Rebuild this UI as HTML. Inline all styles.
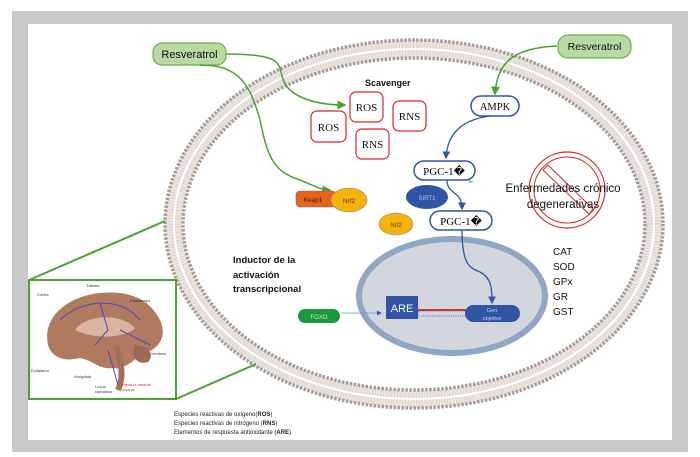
<!DOCTYPE html>
<html><head><meta charset="utf-8"><style>
html,body{margin:0;padding:0;background:#fff;}
svg{display:block;font-family:"Liberation Sans",sans-serif;}
</style></head><body>
<svg width="700" height="457" viewBox="0 0 700 457" xmlns="http://www.w3.org/2000/svg">
<defs>
<marker id="ag" markerWidth="6" markerHeight="6" refX="5" refY="3" orient="auto"><path d="M0,0 L6,3 L0,6z" fill="#4ca22e"/></marker>
<marker id="ab" markerWidth="6" markerHeight="6" refX="5" refY="3" orient="auto"><path d="M0,0 L6,3 L0,6z" fill="#2f55a4"/></marker>
</defs>
<rect x="12" y="11" width="676" height="441" fill="#c8c9cb"/>
<rect x="28" y="24" width="644" height="416" fill="#fff"/>
<!-- membrane -->
<ellipse cx="414" cy="224" rx="240" ry="175" fill="none" stroke="#ece6e3" stroke-width="18"/>
<ellipse cx="414" cy="224" rx="240" ry="175" fill="none" stroke="#d9cfca" stroke-width="14" stroke-dasharray="0.8 2"/>
<ellipse cx="414" cy="224" rx="240" ry="175" fill="none" stroke="#fff" stroke-width="2"/>
<ellipse cx="414" cy="224" rx="249" ry="184" fill="none" stroke="#a89d96" stroke-width="3.5" stroke-dasharray="2.5 1.5"/>
<ellipse cx="414" cy="224" rx="231" ry="166" fill="none" stroke="#a89d96" stroke-width="3.5" stroke-dasharray="2.5 1.5"/>
<!-- brain box connectors -->
<line x1="29" y1="280" x2="165" y2="221" stroke="#4ca22e" stroke-width="2"/>
<line x1="176" y1="399" x2="256" y2="364" stroke="#4ca22e" stroke-width="2"/>
<rect x="29" y="280" width="147" height="119" fill="#fff" stroke="#4ca22e" stroke-width="2"/>
<!-- brain -->
<path d="M48,345 C42,315 70,296 100,293 C130,290 150,300 160,320 C168,338 158,350 140,355 C130,365 120,370 112,368 C100,370 92,360 80,358 C65,362 52,358 48,345z" fill="#b07a5e"/>
<path d="M75,330 C85,315 120,312 135,328 C125,338 95,340 75,330z" fill="#d9b5a0"/>
<path d="M116,345 C120,360 125,375 118,390" stroke="#a27058" stroke-width="6" fill="none"/>
<path d="M135,345 C148,345 155,355 148,362 C138,365 130,358 135,345z" fill="#9a6a54"/>
<path d="M60,320 C80,300 120,295 140,320 M100,303 L108,330 L95,345 M120,330 L150,345 M108,350 L118,385" stroke="#4a48d0" stroke-width="1" fill="none"/>
<g font-size="4" fill="#333"><text x="37" y="296">Cortex</text><text x="86" y="287">Tálamo</text><text x="130" y="302">Hipocampo</text><text x="150" y="355">Cerebelo</text><text x="31" y="372">Epitálamo</text><text x="74" y="378">Amígdala</text><text x="95" y="388">Locus</text><text x="95" y="393">coeruleus</text><text x="122" y="386" fill="#c0392b">Hacia la médula</text><text x="122" y="391" fill="#c0392b">espinal</text></g>
<!-- nucleus -->
<ellipse cx="452" cy="296" rx="93" ry="57" fill="#d3d6dc" stroke="#8fa6c4" stroke-width="6"/>
<rect x="386" y="296" width="32" height="23" fill="#2f55a4"/>
<text x="402" y="312" font-size="11" fill="#fff" text-anchor="middle">ARE</text>
<rect x="418" y="309" width="50" height="2" fill="#d33"/>
<rect x="418" y="311" width="50" height="5" fill="none" stroke="#2f55a4" stroke-width="0.8" stroke-dasharray="1 1.3"/>
<rect x="465" y="305" width="55" height="17" rx="8.5" fill="#2f55a4"/>
<text x="492" y="312" font-size="5.5" fill="#c9d4ee" text-anchor="middle">Gen</text>
<text x="492" y="320" font-size="5.5" fill="#c9d4ee" text-anchor="middle">objetivo</text>
<!-- FOXO -->
<rect x="298" y="309" width="42" height="14" rx="7" fill="#1a9a3a"/>
<text x="319" y="319" font-size="6" fill="#cfe8cf" text-anchor="middle">FOXO</text>
<line x1="341" y1="313" x2="381" y2="313" stroke="#6f8fd0" stroke-width="0.8" marker-end="url(#ab)"/>
<!-- Resveratrol -->
<rect x="153" y="43" width="73" height="22" rx="9" fill="#b7d9a4" stroke="#6cb24a" stroke-width="1.2"/>
<text x="189.5" y="58" font-size="11" text-anchor="middle" fill="#111">Resveratrol</text>
<rect x="558" y="35" width="73" height="23" rx="10" fill="#b7d9a4" stroke="#6cb24a" stroke-width="1.2"/>
<text x="594.5" y="50" font-size="10.5" text-anchor="middle" fill="#111">Resveratrol</text>
<path d="M226,54 C300,54 270,70 290,90 C305,103 330,105 345,105" stroke="#4ca22e" stroke-width="1.5" fill="none" marker-end="url(#ag)"/>
<path d="M200,65 C240,65 250,85 260,120 C268,160 275,172 300,180 C315,186 320,190 330,190" stroke="#4ca22e" stroke-width="1.5" fill="none" marker-end="url(#ag)"/>
<path d="M557,46 C510,48 497,65 495,94" stroke="#4ca22e" stroke-width="1.5" fill="none" marker-end="url(#ag)"/>
<!-- Scavenger -->
<text x="365" y="86" font-size="9" font-weight="bold" fill="#111">Scavenger</text>
<g fill="#fff" stroke="#e02424" stroke-width="1.2" font-family="Liberation Serif" font-size="11">
<rect x="350" y="92" width="33" height="30" rx="6"/>
<rect x="393" y="101" width="33" height="30" rx="6"/>
<rect x="356" y="129" width="33" height="30" rx="6"/>
<rect x="311" y="111" width="35" height="31" rx="6"/>
</g>
<g font-family="Liberation Serif" font-size="11" fill="#111" text-anchor="middle">
<text x="366.5" y="111">ROS</text><text x="409.5" y="120">RNS</text><text x="372.5" y="148">RNS</text><text x="328.5" y="131">ROS</text>
</g>
<!-- AMPK chain -->
<rect x="471" y="96" width="48" height="20" rx="10" fill="#fff" stroke="#2f55a4" stroke-width="1.5"/>
<text x="495" y="110" font-family="Liberation Serif" font-size="10.5" text-anchor="middle">AMPK</text>
<path d="M490,116 C460,120 447,135 446,158" stroke="#2f55a4" stroke-width="1.3" fill="none" marker-end="url(#ab)"/>
<rect x="414" y="161" width="61" height="19" rx="9.5" fill="#fff" stroke="#2f55a4" stroke-width="1.5"/>
<text x="444" y="175" font-family="Liberation Serif" font-size="11" text-anchor="middle">PGC-1�</text>
<text x="468" y="183" font-size="4.5" fill="#333">Ac</text>
<path d="M447,180 C447,195 462,190 462,209" stroke="#2f55a4" stroke-width="1.3" fill="none" marker-end="url(#ab)"/>
<ellipse cx="427" cy="197" rx="21" ry="12" fill="#2f55a4"/>
<text x="427" y="200" font-size="6" fill="#b8c6e6" text-anchor="middle">SIRT1</text>
<rect x="430" y="211" width="62" height="19" rx="9.5" fill="#fff" stroke="#2f55a4" stroke-width="1.5"/>
<text x="461" y="225" font-family="Liberation Serif" font-size="11" text-anchor="middle">PGC-1�</text>
<path d="M462,230 C462,265 470,268 480,272 C492,278 492,290 492,303" stroke="#2f55a4" stroke-width="1.3" fill="none" marker-end="url(#ab)"/>
<ellipse cx="396" cy="224" rx="17" ry="11" fill="#f5b20c" stroke="#9b8a5a" stroke-width="0.6"/>
<text x="396" y="227" font-size="6" fill="#6a4a00" text-anchor="middle">Nrf2</text>
<rect x="296" y="191" width="40" height="16" rx="4" fill="#e3641a" stroke="#7a6a8a" stroke-width="0.6"/>
<text x="313" y="202" font-size="6.5" fill="#402010" text-anchor="middle">Keap1</text>
<ellipse cx="349" cy="200" rx="18" ry="12" fill="#f5b20c" stroke="#9b8a5a" stroke-width="0.6"/>
<text x="349" y="203" font-size="6.5" fill="#5a3a00" text-anchor="middle">Nrf2</text>
<!-- no sign -->
<circle cx="567" cy="190" r="38" fill="none" stroke="#e02424" stroke-width="1.2"/>
<circle cx="567" cy="190" r="33" fill="none" stroke="#e02424" stroke-width="1"/>
<path d="M543,170 L589,214 L593,209 L548,165z" fill="none" stroke="#e02424" stroke-width="1"/>
<text x="563" y="192" font-size="11.5" text-anchor="middle" fill="#111">Enfermedades crónico</text>
<text x="563" y="208" font-size="11.5" text-anchor="middle" fill="#111">degenerativas</text>
<!-- enzymes -->
<g font-size="10" fill="#111"><text x="553" y="255">CAT</text><text x="553" y="270">SOD</text><text x="553" y="285">GPx</text><text x="553" y="300">GR</text><text x="553" y="315">GST</text></g>
<!-- inductor -->
<g font-size="9.5" font-weight="bold" fill="#111"><text x="233" y="263">Inductor de la</text><text x="233" y="278">activación</text><text x="233" y="292">transcripcional</text></g>
<!-- legend -->
<g font-size="6" fill="#222"><text x="174" y="416">Especies reactivas de oxígeno(<tspan font-weight="bold">ROS</tspan>)</text><text x="174" y="425">Especies reactivas de nitrógeno (<tspan font-weight="bold">RNS</tspan>)</text><text x="174" y="434">Elementos de respuesta antioxidante (<tspan font-weight="bold">ARE</tspan>)</text></g>
</svg>
</body></html>
